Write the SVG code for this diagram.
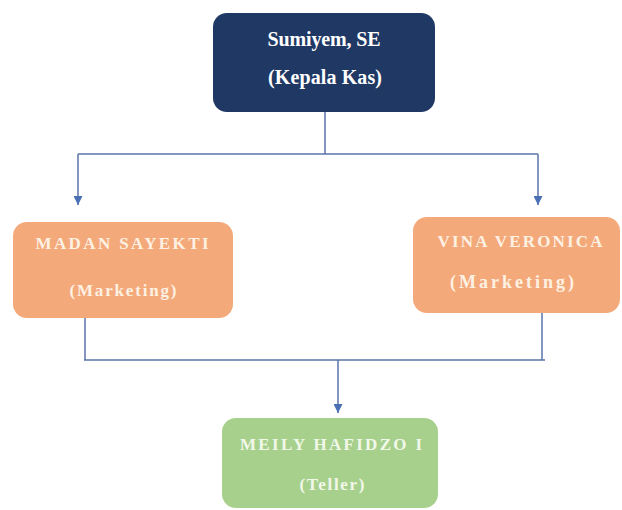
<svg xmlns="http://www.w3.org/2000/svg" width="622" height="510" viewBox="0 0 622 510">
<defs>
<marker id="arr" viewBox="0 0 10 10" refX="10" refY="5" markerWidth="9" markerHeight="9" markerUnits="userSpaceOnUse" orient="auto">
<path d="M0,0 L10,5 L0,10 z" fill="#4a6fb5"/>
</marker>
<style>
.t{font-family:"Liberation Serif","Times New Roman",serif;font-weight:bold;text-anchor:middle}
.top{fill:#ffffff;font-size:20px}
.org{fill:#fdf1e3;font-size:17px}
.grn{fill:#f1f8ea;font-size:17px}
.ln{stroke:#5a75a8;stroke-width:1.5;fill:none}
</style>
</defs>
<rect width="622" height="510" fill="#ffffff"/>
<g id="connectors">
<path class="ln" d="M325,112 V154"/>
<path class="ln" d="M78,154 H538"/>
<path class="ln" d="M78,154 V205" marker-end="url(#arr)"/>
<path class="ln" d="M538,154 V205" marker-end="url(#arr)"/>
<path class="ln" d="M85,318 V360"/>
<path class="ln" d="M542,313 V360"/>
<path class="ln" d="M84,360 H545"/>
<path class="ln" d="M338,360 V413" marker-end="url(#arr)"/>
</g>
<g id="kepala">
<rect x="213" y="13" width="222" height="99" rx="14" fill="#1f3864"/>
<text class="t top" x="324" y="46" textLength="113" lengthAdjust="spacing">Sumiyem, SE</text>
<text class="t top" x="325" y="84" textLength="114" lengthAdjust="spacing">(Kepala Kas)</text>
</g>
<g id="madan">
<rect x="13" y="222" width="220" height="96" rx="14" fill="#f4a97a"/>
<text class="t org" x="122" y="249" textLength="173" lengthAdjust="spacing">MADAN SAYEKTI</text>
<text class="t org" x="123" y="296" textLength="107" lengthAdjust="spacing">(Marketing)</text>
</g>
<g id="vina">
<rect x="413" y="217" width="207" height="96" rx="14" fill="#f4a97a"/>
<text class="t org" x="520" y="247" textLength="165" lengthAdjust="spacing">VINA VERONICA</text>
<text class="t org" x="512" y="288" style="font-size:18px" textLength="124" lengthAdjust="spacing">(Marketing)</text>
</g>
<g id="meily">
<rect x="222" y="418" width="216" height="90" rx="14" fill="#a8d08d"/>
<text class="t grn" x="331" y="450" textLength="182" lengthAdjust="spacing">MEILY HAFIDZO I</text>
<text class="t grn" x="332" y="490" textLength="65" lengthAdjust="spacing">(Teller)</text>
</g>
</svg>
